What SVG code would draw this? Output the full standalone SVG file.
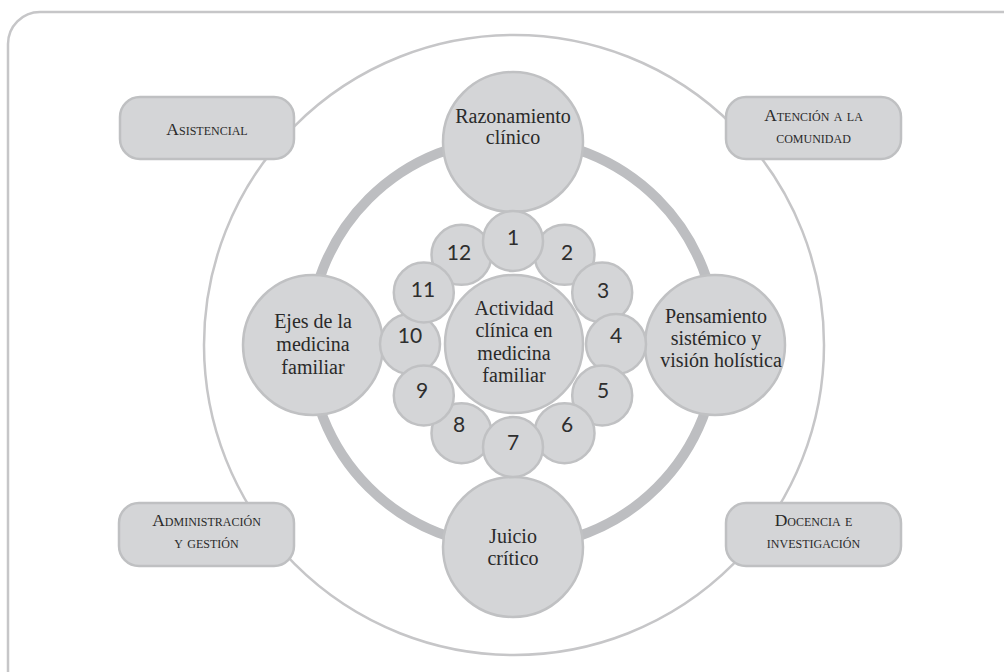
<svg xmlns="http://www.w3.org/2000/svg" width="1004" height="672" viewBox="0 0 1004 672">
<style>
.frame{fill:none;stroke:#c6c6c8;stroke-width:2.5}
.thin{fill:none;stroke:#c6c6c8;stroke-width:2.5}
.thick{fill:none;stroke:#bdbec1;stroke-width:10}
.box{fill:#d4d5d7;stroke:#bfc0c2;stroke-width:2.5}
.c{fill:#d4d5d7;stroke:#c0c1c3;stroke-width:2.5}
.lbl{font-family:"Liberation Serif",serif;font-size:20px;fill:#2a2a2a;text-anchor:middle}
.sc{font-family:"Liberation Serif",serif;font-size:17.5px;fill:#2a2a2a;text-anchor:middle;font-variant:small-caps}
.num{font-family:Lato,"Open Sans",sans-serif;font-size:21px;fill:#2e2e2e;text-anchor:middle}
</style>
<rect width="1004" height="672" fill="#fff"/>
<path class="frame" d="M8,700 V44 A32,32 0 0 1 40,12 H1030"/>
<g id="connectors">
<circle class="thin" cx="514" cy="345" r="310"/>
<circle class="thick" cx="513" cy="343" r="204"/>
</g>
<g id="asistencial"><rect class="box" x="120" y="97" width="174" height="62" rx="20"/><text class="sc" x="207" y="135">Asistencial</text></g>
<g id="atencion"><rect class="box" x="726" y="97" width="175" height="62" rx="20"/><text class="sc" x="813.5" y="121">Atención a la</text><text class="sc" x="813.5" y="143">comunidad</text></g>
<g id="administracion"><rect class="box" x="119" y="503" width="175" height="63" rx="20"/><text class="sc" x="206.5" y="526">Administración</text><text class="sc" x="206.5" y="548">y gestión</text></g>
<g id="docencia"><rect class="box" x="726" y="503" width="175" height="63" rx="20"/><text class="sc" x="813.5" y="526">Docencia e</text><text class="sc" x="813.5" y="548">investigación</text></g>
<g id="razonamiento"><circle class="c" cx="513" cy="142" r="70"/><text class="lbl" x="513" y="123">Razonamiento</text><text class="lbl" x="513" y="144">clínico</text></g>
<g id="ejes"><circle class="c" cx="313" cy="345" r="70"/><text class="lbl" x="313" y="328">Ejes de la</text><text class="lbl" x="313" y="351">medicina</text><text class="lbl" x="313" y="374">familiar</text></g>
<g id="pensamiento"><circle class="c" cx="715" cy="345" r="70"/><text class="lbl" x="716" y="323">Pensamiento</text><text class="lbl" x="716" y="345">sistémico y</text><text class="lbl" x="721" y="367">visión holística</text></g>
<g id="juicio"><circle class="c" cx="513" cy="547" r="70"/><text class="lbl" x="513" y="543">Juicio</text><text class="lbl" x="513" y="565">crítico</text></g>
<g id="actividad"><circle class="c" cx="514" cy="344" r="69"/><text class="lbl" x="514" y="315">Actividad</text><text class="lbl" x="514" y="337">clínica en</text><text class="lbl" x="514" y="360">medicina</text><text class="lbl" x="514" y="382">familiar</text></g>
<g id="n2"><circle class="c" cx="564.5" cy="254.8" r="30"/><text class="num" x="567" y="260">2</text></g>
<g id="n12"><circle class="c" cx="461.5" cy="254.8" r="30"/><text class="num" x="459" y="260">12</text></g>
<g id="n1"><circle class="c" cx="513" cy="241" r="30"/><text class="num" x="513" y="245">1</text></g>
<g id="n3"><circle class="c" cx="602.2" cy="292.5" r="30"/><text class="num" x="603" y="298">3</text></g>
<g id="n4"><circle class="c" cx="616" cy="344" r="30"/><text class="num" x="616" y="343">4</text></g>
<g id="n5"><circle class="c" cx="602.2" cy="395.5" r="30"/><text class="num" x="603" y="398">5</text></g>
<g id="n6"><circle class="c" cx="564.5" cy="433.2" r="30"/><text class="num" x="567" y="432">6</text></g>
<g id="n8"><circle class="c" cx="461.5" cy="433.2" r="30"/><text class="num" x="459" y="432">8</text></g>
<g id="n7"><circle class="c" cx="513" cy="447" r="30"/><text class="num" x="513" y="450">7</text></g>
<g id="n10"><circle class="c" cx="410" cy="344" r="30"/><text class="num" x="410" y="343">10</text></g>
<g id="n9"><circle class="c" cx="423.8" cy="395.5" r="30"/><text class="num" x="422" y="398">9</text></g>
<g id="n11"><circle class="c" cx="423.8" cy="292.5" r="30"/><text class="num" x="423" y="297">11</text></g>
</svg>
